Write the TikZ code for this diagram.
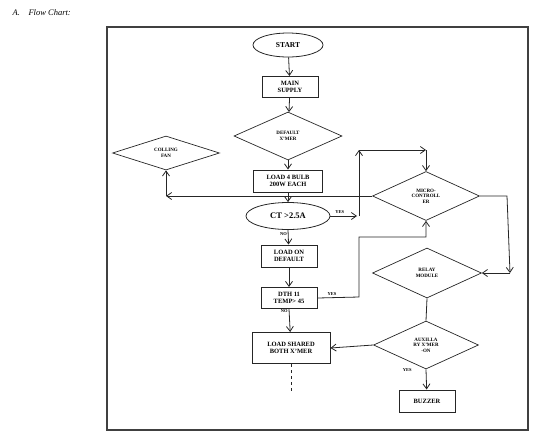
\documentclass[tikz,border=0pt]{standalone}
\usepackage{fontspec}
\setmainfont{Liberation Serif}
\usetikzlibrary{shapes.geometric,arrows.meta}
\begin{document}
\begin{tikzpicture}[x=1pt,y=-1pt,
  line width=0.8pt, draw=black!85,
  box/.style={draw, line width=1pt, inner sep=1pt, align=center, font=\fontsize{6.5}{7}\selectfont\bfseries},
  dia/.style={draw, diamond, line width=0.7pt, inner sep=0pt, align=center, font=\fontsize{5}{5.5}\selectfont\bfseries},
  oval/.style={draw, ellipse, line width=0.8pt, inner sep=0pt, align=center},
  arr/.style={-{Straight Barb[length=5pt,width=7pt]}, line width=0.8pt},
  lbl/.style={font=\fontsize{4.5}{5}\selectfont\bfseries, inner sep=0pt}
]
\useasboundingbox (0,0) rectangle (551,440);
\node[anchor=west, font=\fontsize{8.5}{9}\selectfont\itshape] (title) at (9,13) {A.\quad Flow Chart:};
\draw[line width=1.2pt, black!75] (107,27) rectangle (528,430);

\node[oval, minimum width=70, minimum height=24, font=\fontsize{7.5}{8}\selectfont\bfseries] (start) at (288,45) {START};
\node[box, minimum width=56, minimum height=21] (main) at (290,87) {MAIN\\SUPPLY};
\node[dia, minimum width=108, minimum height=48] (def) at (288,136) {DEFAULT\\X'MER};
\node[dia, minimum width=107, minimum height=34] (fan) at (166,153) {COLLING\\FAN};
\node[box, minimum width=69, minimum height=22] (bulb) at (288,181) {LOAD 4 BULB\\200W EACH};
\node[oval, minimum width=84, minimum height=27, font=\fontsize{8.5}{9}\selectfont\bfseries] (ct) at (288,216) {CT >2.5A};
\node[dia, minimum width=107, minimum height=49] (micro) at (426,196) {MICRO-\\CONTROLL\\ER};
\node[box, minimum width=56, minimum height=22] (ldef) at (289,256) {LOAD ON\\DEFAULT};
\node[dia, minimum width=109, minimum height=50] (relay) at (427,273) {RELAY\\MODULE};
\node[box, minimum width=56, minimum height=21] (dth) at (289,298) {DTH 11\\TEMP> 45};
\node[dia, minimum width=105, minimum height=48] (aux) at (426,345) {AUXILLA\\RY X'MER\\-ON};
\node[box, minimum width=78, minimum height=31] (shared) at (291,348) {LOAD SHARED\\BOTH X'MER};
\node[box, minimum width=56, minimum height=22] (buzz) at (427,401) {BUZZER};

\coordinate (fanc) at (fan.south |- micro.west);
\coordinate (ctyes) at (357,216);
\coordinate (vbot) at (359,216);
\coordinate (vtop) at (359,150);
\coordinate (mtop) at (micro.north |- vtop);
\coordinate (dthr) at (359,297);
\coordinate (dthu) at (359,237);
\coordinate (mbot) at (micro.south |- dthu);
\coordinate (mr1) at (507,196);
\coordinate (mr2) at (510,273);
\coordinate (dash) at (291,392);

\draw[arr] (start) -- (main);
\draw[arr] (main) -- (def);
\draw[arr] (def) -- (bulb);
\draw[arr] (bulb) -- (ct);
\draw[arr] (micro.west) -- (fanc);
\draw[arr] (fanc) -- (fan.south);
\draw[arr] (ct.east) -- node[lbl, above=2pt, pos=0.35] {YES} (ctyes);
\draw[arr] (vbot) -- (vtop);
\draw[arr] (vtop) -- (mtop);
\draw[arr] (mtop) -- (micro.north);
\draw[arr] (ct.south) -- node[lbl, left=1pt, pos=0.3] {NO} (ldef);
\draw[arr] (ldef) -- (dth);
\draw[arr] (dth.east) -- node[lbl, above=2pt, pos=0.35] {YES} (dthr) -- (dthu) -- (mbot) -- (micro.south);
\draw[arr] (dth.south) -- node[lbl, left=1pt, pos=0.1] {NO} (shared);
\draw[arr] (micro.east) -- (mr1) -- (mr2);
\draw[arr] (mr2) -- (relay.east);
\draw (relay.south) -- (aux.north);
\draw[arr] (aux.west) -- (shared.east);
\draw[arr] (aux.south) -- node[lbl, left=14pt, pos=0.05] {YES} (buzz);
\draw[dashed] (shared.south) -- (dash);
\end{tikzpicture}
\end{document}
